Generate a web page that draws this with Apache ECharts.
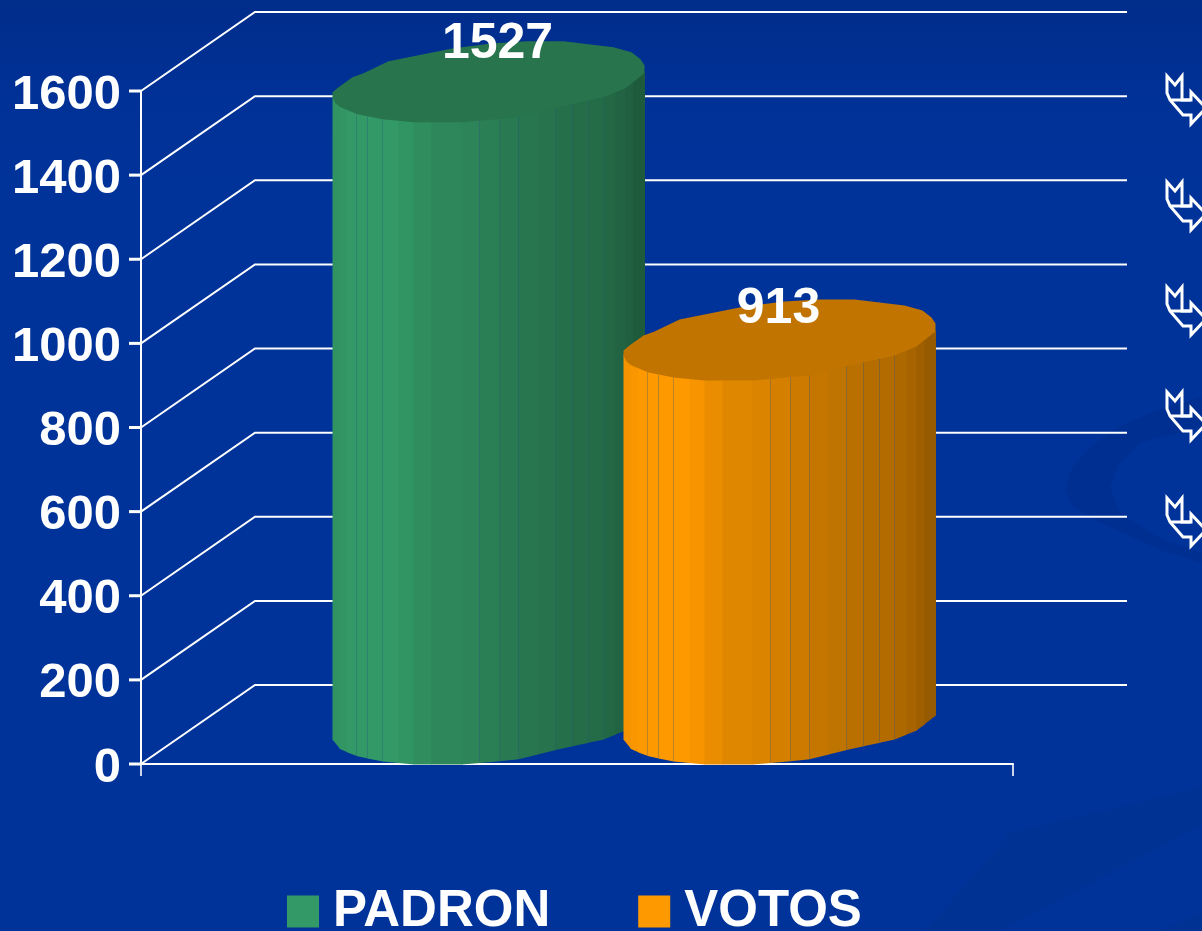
<!DOCTYPE html>
<html><head><meta charset="utf-8">
<style>html,body{margin:0;padding:0;background:#003399;overflow:hidden}#c{width:1202px;height:931px}</style>
<script src="https://cdn.jsdelivr.net/npm/echarts@6/dist/echarts.min.js"></script>
</head><body><div id="c"></div>
<script>
// ---- data ----
const categories = [''];
const padronValues = [1527];
const votosValues = [913];
const axisTicks = [0, 200, 400, 600, 800, 1000, 1200, 1400, 1600];

// ---- look of the 3D drawing ----
const DEPTH_X = 114, DEPTH_Y = 79;
const BAR_OFFSET = 145.5;
const GREEN = [51, 153, 102], ORANGE = [255, 153, 0];
const capOutline = [[-156,11],[-150,6],[-136,-4],[-125,-8],[-100,-20],[-35,-33],[5,-38],[39,-40],[75,-40],[125,-34],[143,-29],[152,-22],[156,-16],[156,-8],
  [137,7],[115,16],[65,27],[29,36],[-26,41],[-75,41],[-106,38],[-131,33],[-148,26],[-153,22],[-156,16]];
const lowerEdge = [[-156,16],[-153,22],[-148,26],[-131,33],[-106,38],[-75,41],[-26,41],[29,36],[65,27],[115,16],[137,7],[156,-8]];
const facets = [-156,-149,-141,-132,-121,-106,-90,-75,-57,-27,-9,11,30,49,67,84,100,115,127,137,145,156];
const shade = [0.96,0.98,1,1,1,1,0.97,0.92,0.88,0.86,0.83,0.80,0.77,0.75,0.73,0.71,0.70,0.68,0.65,0.62,0.59];
const seamAt = [3,4,5,10,11,12,14,15,16,17];

function edgeY(dx){
  for(let i=0;i<lowerEdge.length-1;i++){
    const a=lowerEdge[i],b=lowerEdge[i+1];
    if(dx>=a[0]&&dx<=b[0]) return a[1]+(b[1]-a[1])*(dx-a[0])/(b[0]-a[0]);
  }
  return lowerEdge[lowerEdge.length-1][1];
}
const rgb=(c,f)=>`rgb(${Math.round(c[0]*f)},${Math.round(c[1]*f)},${Math.round(c[2]*f)})`;

function cylinder(base, barOffset, labelOffset){
  return function(params, api){
    const top = api.coord([api.value(0), api.value(1)]);
    const zero = api.coord([api.value(0), 0]);
    const cx = top[0] + DEPTH_X/2 + barOffset;
    const cyTop = top[1] - DEPTH_Y/2 - 1, cyBot = zero[1] - DEPTH_Y/2 - 1;
    const kids = [];
    for(let i=0;i<facets.length-1;i++){
      const a=facets[i],b=facets[i+1];
      kids.push({type:'polygon',shape:{points:[
        [cx+a,cyTop+edgeY(a)-1],[cx+b+0.5,cyTop+edgeY(b)-1],[cx+b+0.5,cyBot+edgeY(b)],[cx+a,cyBot+edgeY(a)]]},
        style:{fill:rgb(base,shade[i])}});
    }
    seamAt.forEach(i=>{
      const x=cx+facets[i];
      kids.push({type:'line',shape:{x1:x,y1:cyTop+edgeY(facets[i]),x2:x,y2:cyBot+edgeY(facets[i])},
        style:{stroke:'rgba(40,80,130,0.3)',lineWidth:1}});
    });
    kids.push({type:'polygon',shape:{points:capOutline.map(p=>[cx+p[0],cyTop+p[1]])},style:{fill:rgb(base,0.755)}});
    kids.push({type:'text',style:{text:String(api.value(1)),x:cx+labelOffset[0],y:cyTop+labelOffset[1],
      fill:'#fff',font:'bold 50px "Liberation Sans"',textAlign:'center',textVerticalAlign:'middle'}});
    return {type:'group',children:kids};
  };
}

function wallLine(params, api){
  const p = api.coord([0, api.value(0)]);
  const cs = params.coordSys;
  return {type:'group',children:[
    {type:'line',shape:{x1:cs.x-12,y1:p[1],x2:cs.x,y2:p[1]},style:{stroke:'#ffffff',lineWidth:3}},
    {type:'polyline',shape:{points:[[cs.x,p[1]],[cs.x+DEPTH_X,p[1]-DEPTH_Y],[cs.x+cs.width+DEPTH_X,p[1]-DEPTH_Y]]},
      style:{stroke:'#fff',lineWidth:2,fill:null}}
  ]};
}

const arrowTops = [75,181,286,391,497];
const arrowGraphics = [];
arrowTops.forEach(t=>{
  const P=(x,y)=>[x,t+y];
  arrowGraphics.push({type:'polygon',z:5,shape:{points:[P(1167,1),P(1175,10),P(1182,1),P(1182,25),P(1191,25),P(1191,17),P(1206,33),P(1191,49),P(1191,40),P(1183,40),P(1170,25),P(1167,18)]},
    style:{fill:'none',stroke:'#fff',lineWidth:3}});
  arrowGraphics.push({type:'line',z:5,shape:{x1:1170,y1:t+25,x2:1191,y2:t+25},style:{stroke:'#fff',lineWidth:3}});
});

const chart = echarts.init(document.getElementById('c'));
chart.setOption({
  animation:false,
  backgroundColor:{type:'linear',x:0,y:0,x2:0,y2:1,colorStops:[{offset:0,color:'#012d8b'},{offset:0.11,color:'#003197'},{offset:0.2,color:'#003399'},{offset:1,color:'#003399'}]},
  graphic:[
    {type:'polygon',z:0,shape:{points:[[1202,397],[1157,410],[1120,426],[1090,447],[1072,468],[1065,490],[1073,507],[1095,520],[1123,533],[1160,550],[1202,563],
      [1202,553],[1160,538],[1120,513],[1110,487],[1118,465],[1140,443],[1170,435],[1202,427]]},style:{fill:'#002f92'}},
    {type:'polygon',z:0,shape:{points:[[1202,787],[1010,833],[925,931],[1000,931],[1202,825]]},style:{fill:'#00318f',opacity:0.55}},
    {type:'polygon',z:0,shape:{points:[[1202,912],[1202,931],[1160,931]]},style:{fill:'#00318f',opacity:0.55}},
    ...arrowGraphics
  ],
  legend:{
    data:['PADRON','VOTOS'],left:282,top:881,itemWidth:32,itemHeight:32,itemGap:88,icon:'rect',selectedMode:false,
    textStyle:{color:'#fff',fontFamily:'Liberation Sans',fontWeight:'bold',fontSize:51,padding:[0,0,0,9]}
  },
  grid:{left:141,top:91,width:872,height:673,containLabel:false},
  xAxis:{type:'category',data:categories,boundaryGap:true,
    axisLine:{lineStyle:{color:'#fff',width:2}},axisTick:{show:true,alignWithLabel:false,length:12,inside:false,lineStyle:{color:'#fff',width:1.6}},axisLabel:{show:false}},
  yAxis:{type:'value',min:0,max:1600,interval:200,
    axisLine:{show:true,lineStyle:{color:'#fff',width:2}},axisTick:{show:false},splitLine:{show:false},
    axisLabel:{color:'#fff',fontFamily:'Liberation Sans',fontWeight:'bold',fontSize:49,margin:20,verticalAlign:'top',lineHeight:8,
      formatter:v=>axisTicks.includes(v)?String(v):''}},
  series:[
    {type:'custom',name:'wall',z:1,silent:true,clip:false,data:axisTicks.map(v=>[v]),encode:{y:0},renderItem:wallLine},
    {type:'custom',name:'PADRON',z:3,clip:false,itemStyle:{color:rgb(GREEN,1)},data:padronValues.map((v,i)=>[i,v]),encode:{x:0,y:1},renderItem:cylinder(GREEN,-BAR_OFFSET,[9,-37])},
    {type:'custom',name:'VOTOS',z:4,clip:false,itemStyle:{color:rgb(ORANGE,1)},data:votosValues.map((v,i)=>[i,v]),encode:{x:0,y:1},renderItem:cylinder(ORANGE,BAR_OFFSET,[-1,-30])}
  ]
});
</script></body></html>
